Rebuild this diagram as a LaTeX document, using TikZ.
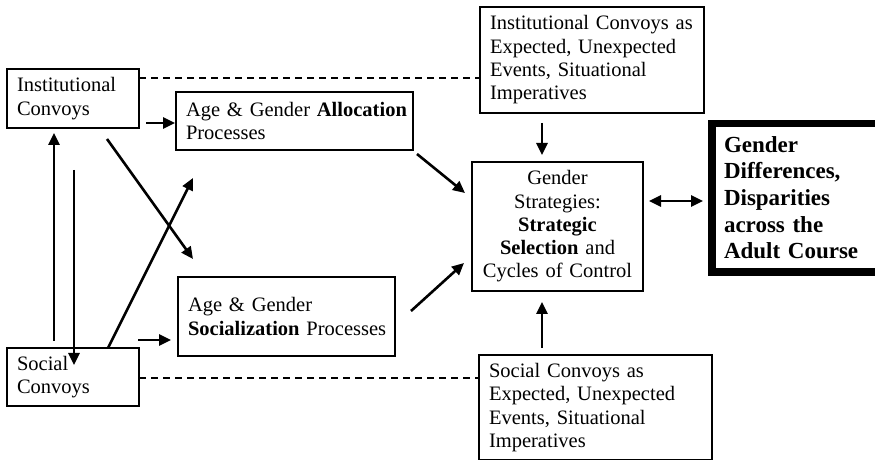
\documentclass[tikz,border=0pt]{standalone}
\usepackage{fontspec}
\setmainfont{Liberation Serif}
\usetikzlibrary{arrows.meta}
\hyphenpenalty=10000
\exhyphenpenalty=10000
\hbadness=10000
\hfuzz=50pt
\begin{document}
\begin{tikzpicture}[x=1pt,y=1pt,
  box/.style={draw, line width=1.9pt, inner sep=0pt, align=left,
    font=\fontsize{20.5}{23.3}\selectfont},
  arr/.style={line width=2.6pt, -{Triangle[length=12pt,width=11pt]}},
  darr/.style={line width=2.6pt, {Triangle[length=12pt,width=11pt]}-{Triangle[length=12pt,width=11pt]}},
  dashline/.style={line width=1.9pt, dash pattern=on 7pt off 5pt}]
\useasboundingbox (0,0) rectangle (875,460);

% boxes
\node[box, minimum width=132, minimum height=59, text width=112] (ic) at (73,361.5)
  {Institutional\\Convoys};
\node[box, minimum width=132, minimum height=58, text width=112] (soc) at (73,83)
  {Social\\Convoys};
\node[box, minimum width=237, minimum height=58, text width=217] (alloc) at (294.5,339)
  {Age~\&~Gender~\textbf{Allocation}\\Processes};
\node[box, minimum width=217, minimum height=79, text width=197] (socz) at (286.5,143.5)
  {Age \& Gender\\\textbf{Socialization}~Processes};
\node[box, minimum width=224, minimum height=106, text width=204] (itop) at (592,400)
  {Institutional Convoys as\\Expected, Unexpected\\Events, Situational\\Imperatives};
\node[box, minimum width=233, minimum height=105, text width=213] (sbot) at (595.5,52.5)
  {Social Convoys as\\Expected, Unexpected\\Events, Situational\\Imperatives};
\node[box, align=center, minimum width=171, minimum height=129, text width=160] (strat) at (557.5,233.5)
  {Gender\\Strategies:\\\textbf{Strategic}\\\textbf{Selection} and\\Cycles of Control};
\node[draw, line width=7.5pt, inner sep=0pt, align=left, minimum width=170, minimum height=148.5,
  text width=146, font=\fontsize{23}{26.6}\selectfont\bfseries] (diff) at (797,262.25)
  {Gender\\Differences,\\Disparities\\across the\\Adult Course};

% connector end points
\coordinate (a1s) at (146,337);
\coordinate (a2s) at (54,119);   \coordinate (a2e) at (54,327);
\coordinate (a3s) at (74,290);   \coordinate (a3e) at (74,95);
\coordinate (a4s) at (107,321);  \coordinate (a4e) at (193,201);
\coordinate (a5s) at (108,112);  \coordinate (a5e) at (193,282);
\coordinate (a6s) at (138,120);  \coordinate (a6e) at (171,120);
\coordinate (a7s) at (417,306);  \coordinate (a7e) at (465,267);
\coordinate (a8s) at (411,149);  \coordinate (a8e) at (464,197);
\coordinate (a9s) at (542,337);  \coordinate (a9e) at (542,305);
\coordinate (a10s) at (542,112); \coordinate (a10e) at (542,158);
\coordinate (a11s) at (649,259); \coordinate (a11e) at (703,259);

% connectors
\draw[arr] (a1s) -- (a1s -| alloc.west);
\draw[arr] (a2s) -- (a2e);
\draw[arr] (a3s) -- (a3e);
\draw[arr] (a4s) -- (a4e);
\draw[arr] (a5s) -- (a5e);
\draw[arr] (a6s) -- (a6e);
\draw[arr] (a7s) -- (a7e);
\draw[arr] (a8s) -- (a8e);
\draw[arr] (a9s) -- (a9e);
\draw[arr] (a10s) -- (a10e);
\draw[darr] (a11s) -- (a11e);

% dashed links
\coordinate (d1) at (139,382);
\coordinate (d2) at (139,82);
\draw[dashline] (d1) -- (d1 -| itop.west);
\draw[dashline] (d2) -- (d2 -| sbot.west);
\end{tikzpicture}
\end{document}
